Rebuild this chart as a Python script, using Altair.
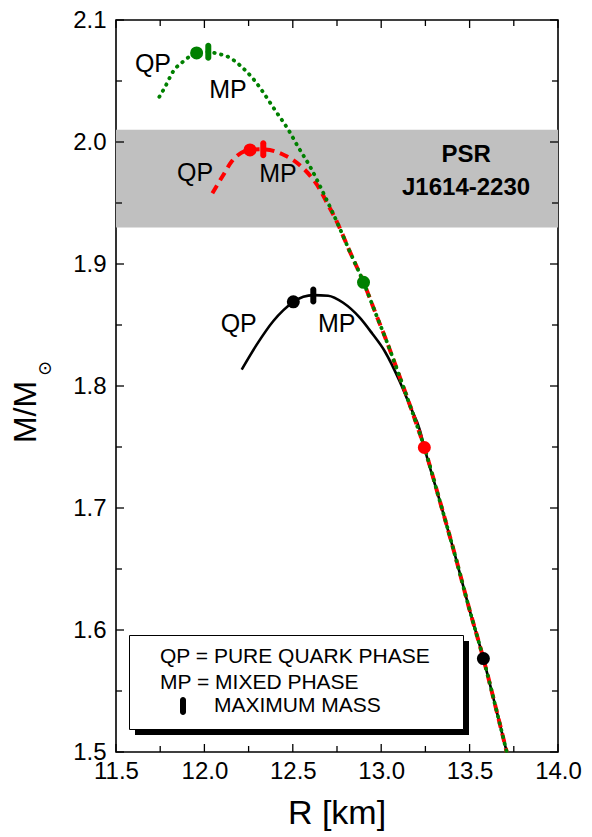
import altair as alt
import pandas as pd

# ---------------- data ----------------
# upper branches of the three curves (R [km], M/Msun)
green_R = [11.745, 11.777, 11.824, 11.88, 11.956, 12.022, 12.07, 12.145, 12.20, 12.24, 12.286, 12.324, 12.40, 12.475, 12.53, 12.597, 12.69]
green_M = [2.037, 2.045, 2.058, 2.066, 2.073, 2.074, 2.0725, 2.069, 2.063, 2.0575, 2.050, 2.0425, 2.026, 2.010, 1.996, 1.980, 1.953]

red_R = [12.045, 12.107, 12.154, 12.258, 12.333, 12.456, 12.54, 12.606, 12.654, 12.69, 12.72]
red_M = [1.958, 1.973, 1.984, 1.9935, 1.994, 1.989, 1.981, 1.971, 1.961, 1.951, 1.943]

black_R = [12.211, 12.295, 12.39, 12.447, 12.503, 12.616, 12.70, 12.785, 12.88, 12.95, 13.02, 13.106, 13.163, 13.22]
black_M = [1.8135, 1.8337, 1.8533, 1.8622, 1.869, 1.8745, 1.874, 1.8682, 1.8558, 1.8428, 1.8285, 1.8033, 1.7836, 1.7632]

# shared part of green and red curves
common_up_R = [12.748, 12.82, 12.90, 12.97, 13.03, 13.106, 13.18]
common_up_M = [1.935, 1.911, 1.885, 1.859, 1.837, 1.807, 1.777]
# shared part of all three curves
common_lo_R = [13.244, 13.331, 13.415, 13.496, 13.578, 13.647, 13.71]
common_lo_M = [1.7496, 1.706, 1.6627, 1.6185, 1.5766, 1.537, 1.50]

# QP onset dots
dot_curve = ["green", "green", "red", "red", "black", "black"]
dot_R = [11.956, 12.90, 12.258, 13.244, 12.503, 13.578]
dot_M = [2.073, 1.885, 1.9935, 1.7496, 1.869, 1.5766]

# maximum-mass markers
max_curve = ["green", "red", "black"]
max_R = [12.022, 12.333, 12.616]
max_M = [2.074, 1.994, 1.8742]

# QP / MP annotations
ann_text = ["QP", "MP", "QP", "MP", "QP", "MP"]
ann_R = [11.709, 12.133, 11.947, 12.416, 12.194, 12.748]
ann_M = [2.0636, 2.0428, 1.9745, 1.9741, 1.8507, 1.8507]

# PSR J1614-2230 band
band_lo = [1.93]
band_hi = [2.01]
psr_lines = ["PSR", "J1614-2230"]
psr_R = [13.48, 13.48]
psr_M = [1.9896, 1.962]

legend_lines = ["QP = PURE QUARK PHASE", "MP = MIXED PHASE", "MAXIMUM MASS"]

x_major = [11.5, 12.0, 12.5, 13.0, 13.5, 14.0]
x_minor = [11.75, 12.25, 12.75, 13.25, 13.75]
y_major = [1.5, 1.6, 1.7, 1.8, 1.9, 2.0, 2.1]
y_minor = [1.55, 1.65, 1.75, 1.85, 1.95, 2.05]

# ---------------- chart ----------------
W, H = 442, 732
FONT = "Liberation Sans"
xs = alt.Scale(domain=[11.5, 14.0], nice=False, zero=False)
ys = alt.Scale(domain=[1.5, 2.1], nice=False, zero=False)

x_axis = alt.Axis(values=x_major, format=".1f", title=None, grid=False, domain=False,
                  ticks=False, labelFontSize=24, labelFont=FONT, labelColor="black",
                  labelPadding=7, labelFlush=False, labelOverlap=False)
y_axis = alt.Axis(values=y_major, format=".1f", title=None, grid=False, domain=False,
                  ticks=False, labelFontSize=24, labelFont=FONT, labelColor="black",
                  labelPadding=10, labelFlush=False, labelOverlap=False)

X = alt.X("R:Q", scale=xs, axis=x_axis)
Y = alt.Y("M:Q", scale=ys, axis=y_axis)

colors = alt.Scale(domain=["green", "red", "black"], range=["#008000", "#ff0000", "#000000"])


def curve_df(R, M):
    return pd.DataFrame({"R": R, "M": M, "i": list(range(len(R)))})


one = pd.DataFrame({"k": [0]})

band = alt.Chart(pd.DataFrame({"M": band_lo, "hi": band_hi})).mark_rect(color="#c0c0c0").encode(
    x=alt.value(0), x2=alt.value(W), y=Y, y2="hi:Q")

black_line = alt.Chart(curve_df(black_R + common_lo_R, black_M + common_lo_M)).mark_line(
    color="black", strokeWidth=2.6, interpolate="monotone").encode(x=X, y=Y, order="i:Q")
red_line = alt.Chart(curve_df(red_R + common_up_R + common_lo_R, red_M + common_up_M + common_lo_M)).mark_line(
    color="#ff0000", strokeWidth=4, strokeDash=[9, 6], interpolate="monotone").encode(x=X, y=Y, order="i:Q")
green_line = alt.Chart(curve_df(green_R + common_up_R + common_lo_R, green_M + common_up_M + common_lo_M)).mark_line(
    color="#008000", strokeWidth=3.8, strokeDash=[0.5, 6.5], strokeCap="round", interpolate="monotone").encode(
    x=X, y=Y, order="i:Q")

dots = alt.Chart(pd.DataFrame({"R": dot_R, "M": dot_M, "c": dot_curve})).mark_circle(size=170, opacity=1).encode(
    x=X, y=Y, color=alt.Color("c:N", scale=colors, legend=None))

maxm = alt.Chart(pd.DataFrame({"R": max_R, "M": max_M, "c": max_curve})).mark_tick(
    orient="vertical", size=18, thickness=6, cornerRadius=3, opacity=1).encode(
    x=X, y=Y, color=alt.Color("c:N", scale=colors, legend=None))

ann = alt.Chart(pd.DataFrame({"R": ann_R, "M": ann_M, "t": ann_text})).mark_text(
    fontSize=25, font=FONT, color="black", align="center", baseline="middle").encode(
    x=X, y=Y, text="t:N")

psr = alt.Chart(pd.DataFrame({"R": psr_R, "M": psr_M, "t": psr_lines})).mark_text(
    fontSize=24, font=FONT, fontWeight="bold", color="black", align="center", baseline="middle").encode(
    x=X, y=Y, text="t:N")


# inward ticks on all four sides
def x_ticks(vals, L):
    b = alt.Chart(pd.DataFrame({"R": vals})).mark_rule(color="black", strokeWidth=1.3)
    return [b.encode(x=X, y=alt.value(H), y2=alt.value(H - L)),
            b.encode(x=X, y=alt.value(0), y2=alt.value(L))]


def y_ticks(vals, L):
    b = alt.Chart(pd.DataFrame({"M": vals})).mark_rule(color="black", strokeWidth=1.3)
    return [b.encode(y=Y, x=alt.value(0), x2=alt.value(L)),
            b.encode(y=Y, x=alt.value(W), x2=alt.value(W - L))]


ticks = x_ticks(x_major, 8) + x_ticks(x_minor, 6) + y_ticks(y_major, 8) + y_ticks(y_minor, 6)

# legend box
shadow = alt.Chart(one).mark_rect(color="black").encode(
    x=alt.value(19), x2=alt.value(353), y=alt.value(621), y2=alt.value(715))
box = alt.Chart(one).mark_rect(fill="white", stroke="black", strokeWidth=1).encode(
    x=alt.value(13.5), x2=alt.value(347.5), y=alt.value(615.5), y2=alt.value(709.5))
leg1 = alt.Chart(one).mark_text(text=legend_lines[0], fontSize=21, font=FONT, align="left",
                                baseline="middle", color="black").encode(x=alt.value(44), y=alt.value(637))
leg2 = alt.Chart(one).mark_text(text=legend_lines[1], fontSize=21, font=FONT, align="left",
                                baseline="middle", color="black").encode(x=alt.value(44), y=alt.value(663))
leg3 = alt.Chart(one).mark_text(text=legend_lines[2], fontSize=21, font=FONT, align="left",
                                baseline="middle", color="black").encode(x=alt.value(98), y=alt.value(686))
leg_sym = alt.Chart(one).mark_rect(color="black", cornerRadius=3).encode(
    x=alt.value(64), x2=alt.value(70), y=alt.value(677), y2=alt.value(695))

# axis titles
xtitle = alt.Chart(one).mark_text(text="R [km]", fontSize=34, font=FONT, align="center",
                                  baseline="middle", color="black").encode(x=alt.value(221), y=alt.value(794))
ytitle = alt.Chart(one).mark_text(text="M/M", fontSize=32, font=FONT, align="center", angle=270,
                                  baseline="middle", color="black").encode(x=alt.value(-90), y=alt.value(392))
ysub = alt.Chart(one).mark_text(text="\u2299", fontSize=18, font="DejaVu Sans", align="center",
                                baseline="middle", color="black").encode(x=alt.value(-71), y=alt.value(349))

chart = alt.layer(
    band, black_line, red_line, green_line, dots, maxm, ann, psr,
    shadow, box, leg1, leg2, leg3, leg_sym,
    *ticks, xtitle, ytitle, ysub
).properties(
    width=W, height=H,
    padding={"left": 108, "top": 12, "right": 26, "bottom": 82},
    autosize=alt.AutoSizeParams(type="none"),
    background="white",
).configure_view(stroke="black", strokeWidth=1.6)

chart.save("out.html", embed_options={"renderer": "svg", "actions": False})
